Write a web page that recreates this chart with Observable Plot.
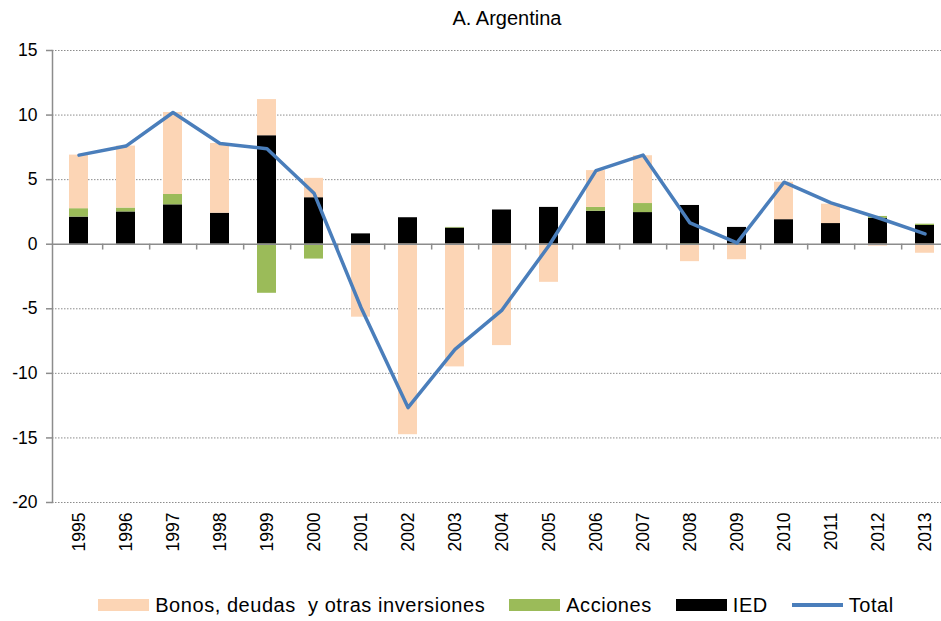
<!DOCTYPE html>
<html><head><meta charset="utf-8">
<script src="https://cdn.jsdelivr.net/npm/d3@7"></script>
<script src="https://cdn.jsdelivr.net/npm/@observablehq/plot@0.6"></script>
<style>
body{margin:0;background:#fff;font-family:"Liberation Sans",Arial,sans-serif;color:#000}
#title{height:36px;line-height:36px;text-align:center;font-size:20px;padding-left:73px;width:941px;box-sizing:border-box}
#legend{display:flex;justify-content:center;align-items:center;height:40px;padding-left:51px;width:941px;box-sizing:border-box;font-size:20px;letter-spacing:0.55px}
.item{display:flex;align-items:center;margin:0 12px}
.sw{width:51px;height:12px;margin-right:6px}
.ln{width:51px;height:3.5px;margin-right:6px;background:#4A7EBB}
</style></head>
<body>
<div id="title">A. Argentina</div>
<div id="chart"></div>
<div id="legend"></div>
<script>
const years = ["1995","1996","1997","1998","1999","2000","2001","2002","2003","2004","2005","2006","2007","2008","2009","2010","2011","2012","2013"];
const ied      = [2.1, 2.5, 3.05, 2.4, 8.4, 3.6, 0.8, 2.05, 1.25, 2.65, 2.85, 2.55, 2.45, 3.0, 1.3, 1.9, 1.6, 2.0, 1.45];
const acciones = [0.65, 0.3, 0.8, 0, -3.8, -1.15, 0, 0, 0.05, 0, 0, 0.3, 0.7, -0.05, 0, 0, 0, 0.15, 0.1];
const bonos    = [4.15, 4.8, 6.35, 5.4, 2.8, 1.5, -5.65, -14.75, -9.5, -7.85, -2.95, 2.85, 3.7, -1.3, -1.2, 2.9, 1.5, -0.15, -0.7];
const total    = [6.9, 7.6, 10.2, 7.8, 7.4, 3.95, -4.9, -12.65, -8.15, -5.1, -0.1, 5.7, 6.9, 1.65, 0.1, 4.8, 3.2, 2.05, 0.8];
const yTicks = [-20, -15, -10, -5, 0, 5, 10, 15];
const seriesNames = ["Bonos", "Acciones", "IED"];
const seriesLabels = ["Bonos, deudas  y otras inversiones", "Acciones", "IED"];
const seriesColors = ["#FCD5B5", "#9BBB59", "#000000"];
const lineColor = "#4A7EBB";

const rows = [];
years.forEach((y, i) => {
  rows.push({year: y, series: "IED", value: ied[i]});
  rows.push({year: y, series: "Acciones", value: acciones[i]});
  rows.push({year: y, series: "Bonos", value: bonos[i]});
});
const totals = years.map((y, i) => ({year: y, total: total[i]}));

const xRange = [52, 951];
const step = (xRange[1] - xRange[0]) / years.length;
const grey = "#8c8c8c";

const chart = Plot.plot({
  width: 941,
  height: 549,
  marginLeft: 52,
  marginRight: 0,
  marginTop: 14,
  marginBottom: 83,
  style: {fontFamily: '"Liberation Sans", Arial, sans-serif', fontSize: "17px", color: "#000", background: "#fff", overflow: "hidden"},
  x: {type: "band", domain: years, range: xRange, paddingInner: 0.6, paddingOuter: 0.3},
  y: {domain: [-20, 15]},
  color: {domain: seriesNames, range: seriesColors},
  marks: [
    Plot.ruleY(yTicks.filter(d => d !== 0), {stroke: grey, strokeWidth: 1, strokeDasharray: "1.5,1.5"}),
    Plot.barY(rows, {x: "year", y: "value", z: "series", fill: "series", order: ["IED", "Acciones", "Bonos"]}),
    Plot.ruleY([0], {stroke: grey, strokeWidth: 1.5}),
    Plot.ruleX(years, {x: d => d, dx: step / 2, y1: 0, y2: -0.45, stroke: grey, strokeWidth: 1.5}),
    Plot.frame({anchor: "left", stroke: grey, strokeWidth: 1.5}),
    Plot.axisY({ticks: yTicks, tickFormat: d => String(d), tickSize: 6, tickPadding: 9, stroke: grey, strokeWidth: 1.5, label: null, fontSize: 17.5}),
    Plot.axisX({tickSize: 0, tickRotate: -90, tickPadding: 10, label: null, fontSize: 17.5}),
    Plot.lineY(totals, {x: "year", y: "total", stroke: lineColor, strokeWidth: 3.5, strokeLinejoin: "round"})
  ]
});
document.getElementById("chart").appendChild(chart);

const legend = document.getElementById("legend");
seriesNames.forEach((s, i) => {
  const it = document.createElement("div");
  it.className = "item";
  it.innerHTML = `<div class="sw" style="background:${seriesColors[i]}"></div><span style="white-space:pre">${seriesLabels[i]}</span>`;
  legend.appendChild(it);
});
const it = document.createElement("div");
it.className = "item";
it.innerHTML = `<div class="ln"></div><span>Total</span>`;
legend.appendChild(it);
</script>
</body></html>
